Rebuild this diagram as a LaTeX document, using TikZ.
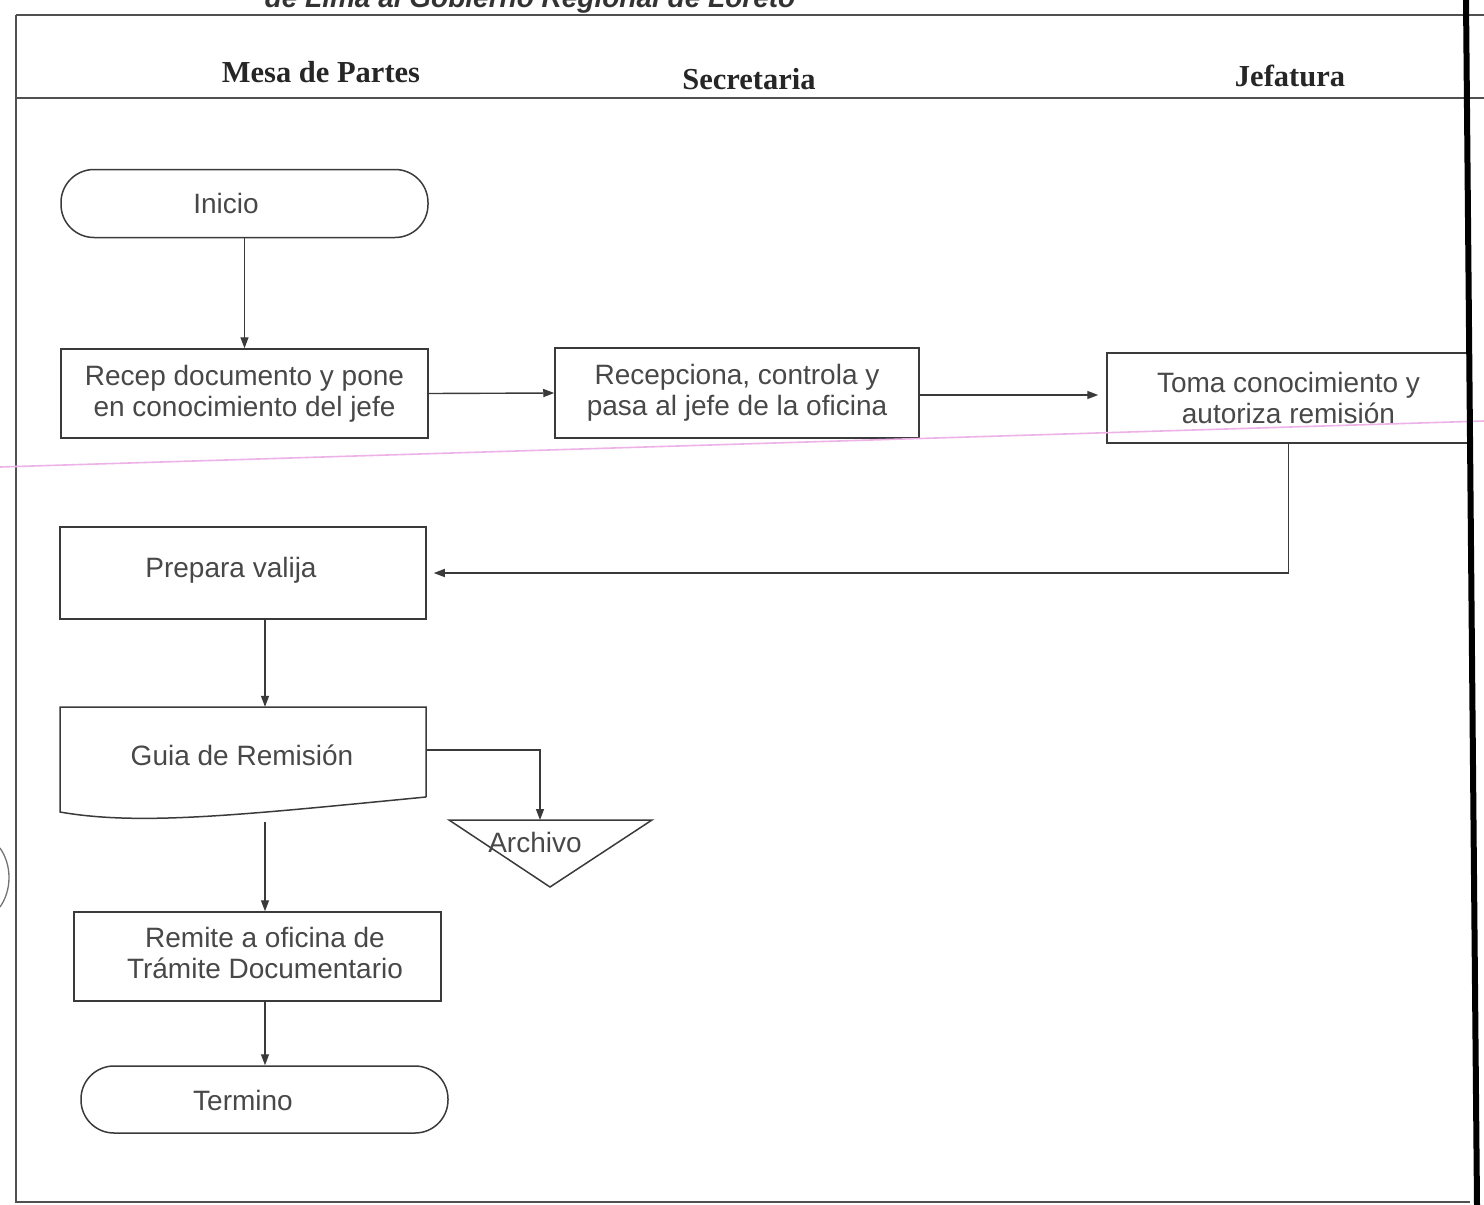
\documentclass[tikz,border=0pt]{standalone}
\usepackage{fontspec}
\setmainfont{Liberation Sans}
\newfontfamily\headserif{Liberation Serif}
\usetikzlibrary{arrows.meta}

\definecolor{ink}{HTML}{3A3A3A}
\definecolor{txt}{HTML}{484848}
\definecolor{frame}{HTML}{505050}
\definecolor{pinkrule}{HTML}{EDB2E8}

\newcommand{\boxfont}{\fontsize{28}{31}\selectfont}
\newcommand{\lanefont}{\headserif\bfseries\fontsize{30.5}{34}\selectfont}
\newcommand{\titlefont}{\bfseries\itshape\fontsize{28}{32}\selectfont}

\tikzset{
  box/.style={draw=ink, line width=1.5pt, minimum width=367pt, minimum height=89pt,
              inner sep=0pt, align=center, font=\boxfont, text=txt},
  term/.style={box, rounded corners=33pt, minimum height=68pt},
  label/.style={font=\boxfont, text=txt, inner sep=0pt, align=center},
  flow/.style={draw=ink, line width=1.4pt, -{Triangle[length=11pt,width=8pt]}},
  lane/.style={font=\lanefont, text=black!85},
  rule/.style={draw=frame, line width=2pt}
}

\begin{document}
\begin{tikzpicture}[x=1pt,y=-1pt]
\useasboundingbox (0,0) rectangle (1484,1205);
\clip (0,0) rectangle (1484,1205);

% caption running off the top of the sheet
\node[anchor=base, font=\titlefont, text=black!80] (title) at (530,7)
  {de Lima al Gobierno Regional de Loreto};

% swimlane frame
\draw[rule] (16,15) -- (1484,15);
\draw[rule, line width=2.4pt] (16,98) -- (1484,98);
\draw[rule] (16,15) -- (16,1202) -- (1470,1202);

% lane headings
\node[lane] (laneA) at (321,72) {Mesa de Partes};
\node[lane] (laneB) at (749,79) {Secretaria};
\node[lane] (laneC) at (1290,76) {Jefatura};

% process steps
\node[term] (inicio) at (244.5,203.5) {};
\node[label] (inicioTxt) at (226,203) {Inicio};
\node[box] (recep) at (244.5,393.5) {Recep documento y pone\\en conocimiento del jefe};
\node[box, minimum width=364pt, minimum height=90pt] (recepc) at (737,393)
  {Recepciona, controla y\\pasa al jefe de la oficina};
\node[box, minimum width=363pt, minimum height=90pt] (toma) at (1288.5,398)
  {Toma conocimiento y\\autoriza remisión};
\node[box, minimum width=366pt, minimum height=92pt] (prepara) at (243,573) {};
\node[label] (preparaTxt) at (231,570) {Prepara valija};

% document symbol
\node[minimum width=366pt, minimum height=90pt, inner sep=0pt] (guia) at (243,752) {};
\draw[draw=ink, line width=1.5pt]
  (426,797) -- (426,707) -- (60,707) -- (60,812)
  .. controls (140,826) and (240,815) .. (426,797);
\node[label] (guiaTxt) at (242,755) {Guia de Remisión};

% file (inverted triangle)
\draw[draw=ink, line width=1.5pt] (449,820) -- (652,820) -- (550,887) -- cycle;
\coordinate (archivo) at (540,820);
\node[label] (archivoTxt) at (535,842) {Archivo};

\node[box, minimum height=89pt] (remite) at (257.5,956.5) {};
\node[label] (remiteTxt) at (265,953) {Remite a oficina de\\Trámite Documentario};
\node[term, minimum height=67pt] (termino) at (264.5,1099.5) {};
\node[label] (terminoTxt) at (243,1100) {Termino};

% connectors
\draw[flow] (inicio.south) -- (recep.north);
\draw[flow] (recep.east) -- (recepc.west);
\draw[flow, shorten >=8pt] ([yshift=-2pt]recepc.east) -- ([yshift=-2pt]recepc.east -| toma.west);
\draw[flow, shorten >=7pt] (toma.south) |- (prepara.east);
\draw[flow] ([xshift=22pt]prepara.south) -- ([xshift=22pt]guia.north);
\draw[flow] ([yshift=2pt]guia.east) -| (archivo);
\coordinate (guiaOut) at (265,822);
\draw[flow] (guiaOut) -- (guiaOut |- remite.north);
\draw[flow] ([xshift=7.5pt]remite.south) -- ([xshift=7.5pt]remite.south |- termino.north);

% marks picked up from the sheet
\draw[pinkrule, line width=1.6pt] (0,467) -- (1484,421);
\draw[black!55, line width=1.3pt] (0,848) .. controls (12,865) and (12,890) .. (0,907);
\draw[black, line width=6pt] (1466,0) -- (1477,1205);
\end{tikzpicture}
\end{document}
